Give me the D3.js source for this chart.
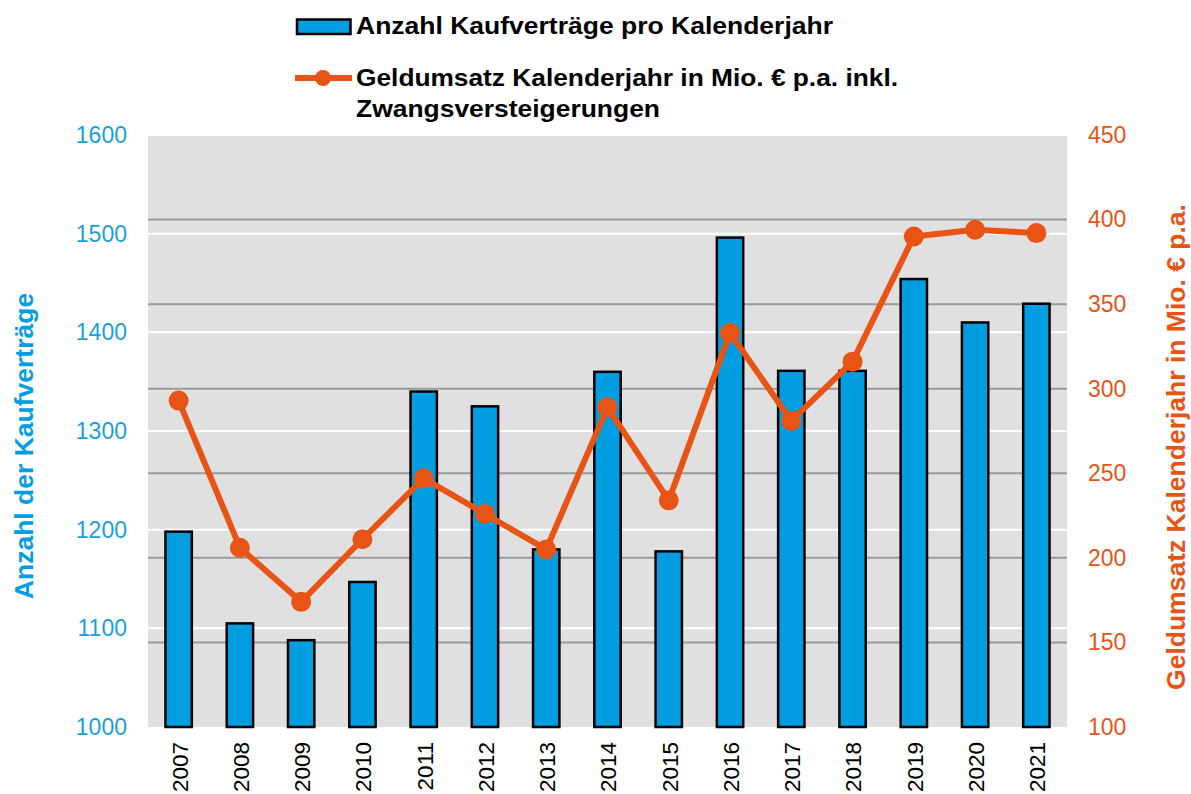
<!DOCTYPE html>
<html>
<head>
<meta charset="utf-8">
<script src="https://cdn.jsdelivr.net/npm/d3@7"></script>
<style>
  body { margin: 0; background: #fff; }
  svg text { font-family: "Liberation Sans", Arial, sans-serif; }
</style>
</head>
<body>
<div id="chart"></div>
<script>
const years = ["2007", "2008", "2009", "2010", "2011", "2012", "2013", "2014", "2015", "2016", "2017", "2018", "2019", "2020", "2021"];
const contracts = [1198, 1105, 1088, 1147, 1340, 1325, 1180, 1360, 1178, 1496, 1361, 1361, 1454, 1410, 1429];
const turnover = [293, 206, 174, 211, 247, 226, 205, 289, 234, 333, 281, 316, 390, 394, 392];
const leftTicks = [1000, 1100, 1200, 1300, 1400, 1500, 1600];
const rightTicks = [100, 150, 200, 250, 300, 350, 400, 450];

const blue = "#009ee0", orange = "#e75416";
const W = 1191, H = 794;
const box = {left: 148, right: 1067, top: 135, bottom: 727};

const svg = d3.select("#chart").append("svg")
    .attr("width", W)
    .attr("height", H);

const x = d3.scaleBand().domain(years).range([box.left, box.right]).paddingInner(0.57).paddingOuter(0.285);
const yL = d3.scaleLinear().domain([1000, 1600]).range([box.bottom, box.top]);
const yR = d3.scaleLinear().domain([100, 450]).range([box.bottom, box.top]);

svg.append("rect")
    .attr("x", box.left).attr("y", box.top)
    .attr("width", box.right - box.left).attr("height", box.bottom - box.top)
    .attr("fill", "#e0e0e0");

// white grid for left axis, grey grid for right axis
svg.append("g").selectAll("line")
    .data(leftTicks.slice(1))
    .join("line")
    .attr("x1", box.left).attr("x2", box.right)
    .attr("y1", d => yL(d)).attr("y2", d => yL(d))
    .attr("stroke", "#fff").attr("stroke-width", 2);

svg.append("g").selectAll("line")
    .data(rightTicks.slice(1, -1))
    .join("line")
    .attr("x1", box.left).attr("x2", box.right)
    .attr("y1", d => yR(d)).attr("y2", d => yR(d))
    .attr("stroke", "#9a9a9a").attr("stroke-width", 2);

svg.append("g").selectAll("rect")
    .data(years)
    .join("rect")
    .attr("x", d => x(d))
    .attr("y", (d, i) => yL(contracts[i]))
    .attr("width", x.bandwidth())
    .attr("height", (d, i) => yL(1000) - yL(contracts[i]))
    .attr("fill", blue)
    .attr("stroke", "#000")
    .attr("stroke-width", 2.5);

const line = d3.line()
    .x((d, i) => x(years[i]) + x.bandwidth() / 2)
    .y(d => yR(d));

svg.append("path")
    .datum(turnover)
    .attr("d", line)
    .attr("fill", "none")
    .attr("stroke", orange)
    .attr("stroke-width", 6)
    .attr("stroke-linejoin", "round");

svg.append("g").selectAll("circle")
    .data(turnover)
    .join("circle")
    .attr("cx", (d, i) => x(years[i]) + x.bandwidth() / 2)
    .attr("cy", d => yR(d))
    .attr("r", 10)
    .attr("fill", orange);

// axes
const axL = svg.append("g")
    .attr("transform", `translate(${box.left},0)`)
    .call(d3.axisLeft(yL).tickValues(leftTicks).tickFormat(d3.format("d")).tickSize(0).tickPadding(21));
axL.select(".domain").remove();
axL.selectAll("text").attr("font-size", 23).attr("fill", "#1a9fdc")
    .style("font-family", "Liberation Sans, Arial, sans-serif");

const axR = svg.append("g")
    .attr("transform", `translate(${box.right},0)`)
    .call(d3.axisRight(yR).tickValues(rightTicks).tickFormat(d3.format("d")).tickSize(0).tickPadding(21));
axR.select(".domain").remove();
axR.selectAll("text").attr("font-size", 23).attr("fill", orange)
    .style("font-family", "Liberation Sans, Arial, sans-serif");

const axB = svg.append("g")
    .attr("transform", `translate(0,${box.bottom})`)
    .call(d3.axisBottom(x).tickSize(0));
axB.select(".domain").remove();
axB.selectAll("text")
    .attr("font-size", 22.5)
    .attr("fill", "#000")
    .attr("transform", "rotate(-90)")
    .attr("text-anchor", "end")
    .attr("x", -15)
    .attr("y", 1)
    .attr("dy", "0.35em")
    .style("font-family", "Liberation Sans, Arial, sans-serif");

svg.append("text")
    .attr("transform", "translate(33,446) rotate(-90)")
    .attr("text-anchor", "middle")
    .attr("font-size", 26.5).attr("font-weight", "bold").attr("fill", blue)
    .text("Anzahl der Kaufverträge");

svg.append("text")
    .attr("transform", "translate(1185,447) rotate(-90)")
    .attr("text-anchor", "middle")
    .attr("font-size", 26.5).attr("font-weight", "bold").attr("fill", orange)
    .text("Geldumsatz Kalenderjahr in Mio. € p.a.");

// legend
const lg = svg.append("g");
lg.append("rect")
    .attr("x", 297).attr("y", 19.5).attr("width", 53.5).attr("height", 14.5)
    .attr("fill", blue).attr("stroke", "#000").attr("stroke-width", 2.5);
lg.append("text")
    .attr("x", 356).attr("y", 34.3)
    .attr("font-size", 24).attr("font-weight", "bold")
    .attr("textLength", 477).attr("lengthAdjust", "spacingAndGlyphs")
    .text("Anzahl Kaufverträge pro Kalenderjahr");
lg.append("line")
    .attr("x1", 295).attr("x2", 352).attr("y1", 78).attr("y2", 78)
    .attr("stroke", orange).attr("stroke-width", 6);
lg.append("circle")
    .attr("cx", 323).attr("cy", 78).attr("r", 8).attr("fill", orange);
lg.append("text")
    .attr("x", 356).attr("y", 86)
    .attr("font-size", 24).attr("font-weight", "bold")
    .attr("textLength", 542).attr("lengthAdjust", "spacingAndGlyphs")
    .text("Geldumsatz Kalenderjahr in Mio. € p.a. inkl.");
lg.append("text")
    .attr("x", 356).attr("y", 116.5)
    .attr("font-size", 24).attr("font-weight", "bold")
    .attr("textLength", 304).attr("lengthAdjust", "spacingAndGlyphs")
    .text("Zwangsversteigerungen");
</script>
</body>
</html>
